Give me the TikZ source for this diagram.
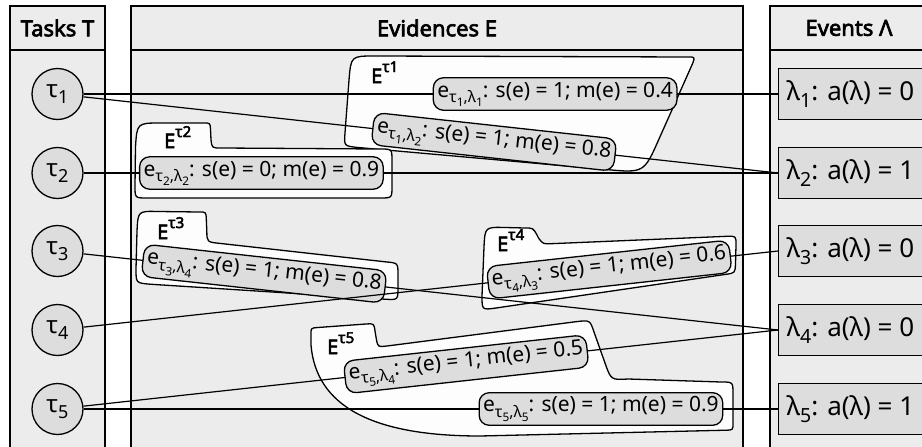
\documentclass[tikz,border=0pt]{standalone}
\usepackage{fontspec}
\setmainfont{Noto Sans}[AutoFakeBold=3]
\usepackage{graphicx}
\newcommand\sbs[1]{\raisebox{-0.25em}{\scalebox{0.75}{#1}}}
\newcommand\sps[1]{\raisebox{0.55em}{\scalebox{0.75}{#1}}}
\definecolor{colbg}{RGB}{236,236,236}
\definecolor{nodebg}{RGB}{221,221,221}
\definecolor{blobbg}{RGB}{253,253,253}
\begin{document}
\begin{tikzpicture}[x=1pt,y=-1pt,
  colframe/.style={draw=black, line width=1.4pt, fill=colbg},
  hdr/.style={font=\fontsize{22}{26}\selectfont\bfseries, inner sep=0pt},
  task/.style={circle, draw=black, line width=1.3pt, fill=nodebg, minimum size=51pt, inner sep=0pt, font=\fontsize{24}{28}\selectfont},
  event/.style={rectangle, draw=black, line width=1.3pt, fill=nodebg, minimum height=51pt, inner xsep=8pt, anchor=west, font=\fontsize{26}{30}\selectfont},
  evid/.style={rectangle, rounded corners=10pt, draw=black, line width=1.3pt, fill=nodebg, inner xsep=4pt, inner ysep=4pt, minimum height=30pt, font=\fontsize{21}{25}\selectfont, sloped},
  blob/.style={draw=black, line width=1.3pt, fill=blobbg},
  conn/.style={draw=black, line width=1.2pt},
  blabel/.style={anchor=base west, inner sep=0pt, font=\fontsize{20}{24}\selectfont\bfseries}
]
\useasboundingbox (0,0) rectangle (922,447);
\clip (0,0) rectangle (922,447);
\fill[white] (0,0) rectangle (922,447);

% columns
\draw[colframe] (10,6) rectangle (105,470);
\draw[line width=1.4pt] (10,50) -- (105,50);
\draw[colframe] (131,6) rectangle (743,470);
\draw[line width=1.4pt] (131,50) -- (743,50);
\draw[colframe] (770,6) rectangle (928,470);
\draw[line width=1.4pt] (770,50) -- (928,50);
\node[hdr] (hT) at (57.5,28) {Tasks T};
\node[hdr] (hE) at (437,28) {Evidences E};
\node[hdr] (hL) at (849,28) {Events Λ};

% tasks
\node[task] (t1) at (57.5,94) {τ\sbs{1}};
\node[task] (t2) at (57.5,173) {τ\sbs{2}};
\node[task] (t3) at (57.5,251) {τ\sbs{3}};
\node[task] (t4) at (57.5,330) {τ\sbs{4}};
\node[task] (t5) at (57.5,409) {τ\sbs{5}};

% events
\node[event] (l1) at (778,94) {λ\sbs{1}: a(λ) = 0};
\node[event] (l2) at (778,173) {λ\sbs{2}: a(λ) = 1};
\node[event] (l3) at (778,251) {λ\sbs{3}: a(λ) = 0};
\node[event] (l4) at (778,330) {λ\sbs{4}: a(λ) = 0};
\node[event] (l5) at (778,409) {λ\sbs{5}: a(λ) = 1};

% blobs
\draw[blob] (375,56) -- (688,57) .. controls (695,57) .. (692.6,63.5)
  -- (659,139) .. controls (644,173) .. (606,169.5)
  -- (358,147.5) .. controls (344,146) .. (345,133)
  -- (349,80) .. controls (351,56) .. (375,56) -- cycle;
\draw[blob] (161,123) -- (204,123) .. controls (210,123) .. (210.5,129)
  -- (211,140) .. controls (212,148) .. (221,148)
  -- (380,149) .. controls (392,149) .. (392,161)
  -- (392,186) .. controls (392,198) .. (380,198)
  -- (147,198) .. controls (135,198) .. (135,186)
  -- (135.5,147) .. controls (137,123) .. (161,123) -- cycle;
\draw[blob] (158,211.5) -- (199,212) .. controls (206,212) .. (206.3,219)
  -- (206.8,231) .. controls (207,242) .. (219,243.3)
  -- (386,261.9) .. controls (398,263) .. (398,275)
  -- (398,287) .. controls (398,300) .. (385,299.2)
  -- (150,284.2) .. controls (136,283) .. (136,269)
  -- (137,231) .. controls (138,211) .. (158,211.5) -- cycle;
\draw[blob] (505,227.5) -- (525,228) .. controls (533,228) .. (537,235)
  -- (538.5,238) .. controls (543,244) .. (551,243.7)
  -- (727,236.3) .. controls (736,236) .. (736,245)
  -- (735.5,264) .. controls (735,273) .. (726,274.3)
  -- (496,308) .. controls (482,310) .. (482,296)
  -- (484,247) .. controls (485,227) .. (505,227.5) -- cycle;
\draw[blob] (318,327.5) -- (366,324) .. controls (374,323.5) .. (375,331)
  -- (376.5,340) .. controls (378,347) .. (387,346)
  -- (576,321.7) .. controls (590,320) .. (594,332)
  -- (605,363) .. controls (611,380) .. (628,379)
  -- (721,382) .. controls (733,382) .. (733,394)
  -- (733,423) .. controls (733,430) .. (726,430.2)
  -- (480,436) .. controls (370,436) and (316,405) .. (311,345)
  -- (311,334) .. controls (311,328) .. (318,327.5) -- cycle;

\node[blabel] (lb1) at (371,83) {E\sps{τ1}};
\node[blabel] (lb2) at (164,148) {E\sps{τ2}};
\node[blabel] (lb3) at (157,239) {E\sps{τ3}};
\node[blabel] (lb4) at (497,251) {E\sps{τ4}};
\node[blabel] (lb5) at (327,354) {E\sps{τ5}};

% connectors with evidences
\draw[conn] (t1) -- node[evid, pos=0.679] (e11) {e\sbs{τ\sbs{1},λ\sbs{1}}: s(e) = 1; m(e) = 0.4} (l1.west);
\draw[conn] (t1) -- node[evid, pos=0.591] (e12) {e\sbs{τ\sbs{1},λ\sbs{2}}: s(e) = 1; m(e) = 0.8} (l2.west);
\draw[conn] (t2) -- node[evid, pos=0.256] (e22) {e\sbs{τ\sbs{2},λ\sbs{2}}: s(e) = 0; m(e) = 0.9} (l2.west);
\draw[conn] (t3) -- node[evid, pos=0.26] (e34) {e\sbs{τ\sbs{3},λ\sbs{4}}: s(e) = 1; m(e) = 0.8} (l4.west);
\draw[conn] (t4) -- node[evid, pos=0.757] (e43) {e\sbs{τ\sbs{4},λ\sbs{3}}: s(e) = 1; m(e) = 0.6} (l3.west);
\draw[conn] (t5) -- node[evid, pos=0.551] (e54) {e\sbs{τ\sbs{5},λ\sbs{4}}: s(e) = 1; m(e) = 0.5} (l4.west);
\draw[conn] (t5) -- node[evid, pos=0.745] (e55) {e\sbs{τ\sbs{5},λ\sbs{5}}: s(e) = 1; m(e) = 0.9} (l5.west);
\end{tikzpicture}
\end{document}
